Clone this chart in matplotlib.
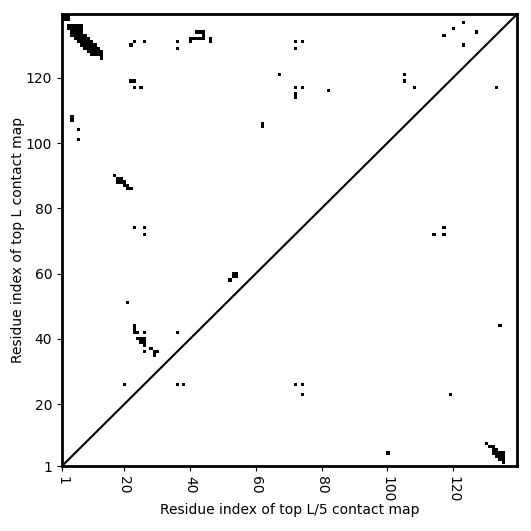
import numpy as np
import matplotlib
matplotlib.use('Agg')
from matplotlib import pyplot as plt

L = 139

# Contacts from top L map (upper-left triangle): x, y residue pairs
top_L_x = [1, 2, 3, 1, 2, 3,
           3, 4, 5, 6, 7, 3, 4, 5, 6, 7, 4, 5, 6, 7, 4, 5, 6, 7, 8,
           5, 6, 7, 8, 9, 6, 7, 8, 9, 10, 7, 8, 9, 10, 11, 8, 9, 10, 11, 12,
           9, 10, 11, 12, 13, 10, 11, 12, 13, 13,
           4, 4, 6, 6,
           17, 18, 19, 18, 19, 20, 20, 21, 21, 22,
           23, 26, 26,
           22, 23, 26, 22, 23, 23, 25, 36, 36,
           42, 43, 44, 44, 40, 41, 42, 43, 44, 40, 46, 46,
           72, 74, 72, 67, 72, 74, 72, 72, 82, 62, 62,
           53, 54, 53, 54, 52, 21,
           23, 23, 23, 24, 26, 36,
           24, 25, 26, 25, 26, 26, 26, 28, 29, 30, 29, 20,
           123, 120, 117, 127, 123, 105, 105, 108, 133]
top_L_y = [139, 139, 139, 138, 138, 138,
           136, 136, 136, 136, 136, 135, 135, 135, 135, 135, 134, 134, 134, 134, 133, 133, 133, 133, 133,
           132, 132, 132, 132, 132, 131, 131, 131, 131, 131, 130, 130, 130, 130, 130, 129, 129, 129, 129, 129,
           128, 128, 128, 128, 128, 127, 127, 127, 127, 126,
           108, 107, 104, 101,
           90, 89, 89, 88, 88, 88, 87, 87, 86, 86,
           74, 74, 72,
           130, 131, 131, 119, 119, 117, 117, 131, 129,
           134, 134, 134, 133, 132, 132, 132, 132, 132, 131, 132, 131,
           131, 131, 129, 121, 117, 117, 115, 114, 116, 106, 105,
           60, 60, 59, 59, 58, 51,
           44, 43, 42, 42, 42, 42,
           40, 40, 40, 39, 39, 38, 36, 37, 36, 36, 35, 26,
           137, 135, 133, 134, 130, 121, 119, 117, 117]

# Contacts from top L/5 map (lower-right triangle)
top_L5_x = [36, 38, 72, 74, 74, 114, 117, 117, 119, 134, 100,
            130, 131, 132, 132, 133, 132, 133, 134, 135, 133, 134, 135, 134, 135, 135]
top_L5_y = [26, 26, 26, 26, 23, 72, 72, 74, 23, 44, 5,
            8, 7, 7, 6, 6, 5, 5, 5, 5, 4, 4, 4, 3, 3, 2]

ticks = [1, 20, 40, 60, 80, 100, 120]

cmap = np.zeros((L, L))
for i, j in zip(top_L_x + top_L5_x, top_L_y + top_L5_y):
    cmap[j - 1, i - 1] = 1

fig = plt.figure(figsize=(5.31, 5.31), dpi=100)
ax = fig.add_axes([0.1168, 0.1224, 0.857, 0.851])

ax.imshow(cmap, cmap='Greys', origin='lower', interpolation='nearest',
          extent=(0.5, L + 0.5, 0.5, L + 0.5), aspect='auto', vmin=0, vmax=1)

# Diagonal
ax.plot([1, L + 0.5], [1, L + 0.5], color='black', linewidth=1.5)

ax.set_xlim(1, L + 0.5)
ax.set_ylim(1, L + 0.5)
ax.set_xticks(ticks)
ax.set_yticks(ticks)
ax.set_xticklabels([str(t) for t in ticks], rotation=270)
for s in ax.spines.values():
    s.set_linewidth(2)

ax.set_xlabel('Residue index of top L/5 contact map', labelpad=1)
ax.set_ylabel('Residue index of top L contact map', labelpad=0.5)

plt.savefig('out.png', dpi=100)
